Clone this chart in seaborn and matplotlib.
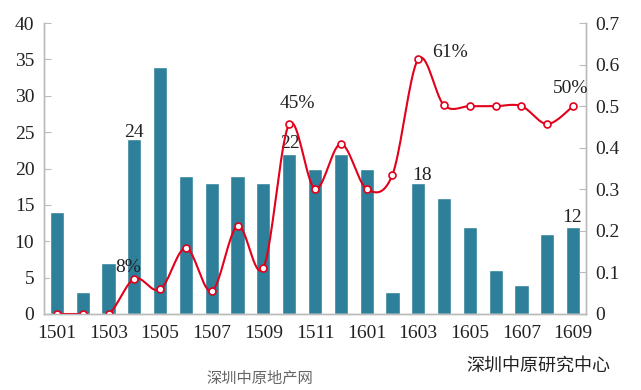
import numpy as np
import pandas as pd
import matplotlib
matplotlib.use("Agg")
import matplotlib.pyplot as plt
import seaborn as sns

months = ["1501", "1502", "1503", "1504", "1505", "1506", "1507", "1508", "1509", "1510",
          "1511", "1512", "1601", "1602", "1603", "1604", "1605", "1606", "1607", "1608", "1609"]
counts = [14, 3, 7, 24, 34, 19, 18, 19, 18, 22, 20, 22, 20, 3, 18, 16, 12, 6, 4, 11, 12]
ratio = [0, 0, 0, 0.085, 0.059, 0.159, 0.055, 0.212, 0.111, 0.457, 0.301, 0.409,
         0.301, 0.335, 0.613, 0.502, 0.5, 0.5, 0.5, 0.457, 0.5]
tick_labels = [m if i % 2 == 0 else "" for i, m in enumerate(months)]

sns.set_style("white")
plt.rcParams["font.family"] = ["Liberation Serif", "Noto Sans CJK SC"]

bar_color = "#2E7F99"
line_color = "#E2001A"
txt = "#222222"

fig = plt.figure(figsize=(6.41, 3.9), dpi=100)
ax = fig.add_axes([44 / 641, 1 - 314 / 390, 542 / 641, 291 / 390])

df = pd.DataFrame({"month": months, "count": counts})
sns.barplot(data=df, x="month", y="count", color=bar_color, width=0.55,
            saturation=1, ax=ax)
ax.set_xlim(-0.5, len(months) - 0.5)
ax.set_ylim(0, 40)
ax.set_yticks(range(0, 41, 5))
ax.set_xticks(range(len(months)))
ax.set_xticklabels(tick_labels)
ax.set_xlabel("")
ax.set_ylabel("")

ax2 = ax.twinx()
ax2.set_ylim(0, 0.7)
ax2.set_yticks(np.arange(0, 0.71, 0.1))
ax2.set_yticklabels(["0"] + [f"{v:.1f}" for v in np.arange(0.1, 0.71, 0.1)])

# smooth curve through the points (Catmull-Rom)
x = np.arange(len(ratio), dtype=float)
y = np.array(ratio, dtype=float)
px = np.concatenate([[x[0]], x, [x[-1]]])
py = np.concatenate([[y[0]], y, [y[-1]]])
sx, sy = [], []
t = np.linspace(0, 1, 20)
for i in range(1, len(px) - 2):
    p0, p1, p2, p3 = py[i - 1], py[i], py[i + 1], py[i + 2]
    q0, q1, q2, q3 = px[i - 1], px[i], px[i + 1], px[i + 2]
    sy.append(0.5 * (2 * p1 + (-p0 + p2) * t + (2 * p0 - 5 * p1 + 4 * p2 - p3) * t ** 2
                     + (-p0 + 3 * p1 - 3 * p2 + p3) * t ** 3))
    sx.append(0.5 * (2 * q1 + (-q0 + q2) * t + (2 * q0 - 5 * q1 + 4 * q2 - q3) * t ** 2
                     + (-q0 + 3 * q1 - 3 * q2 + q3) * t ** 3))
sns.lineplot(x=np.concatenate(sx), y=np.concatenate(sy), color=line_color, lw=1.5,
             ax=ax2, sort=False, estimator=None)
ax2.plot(x, y, "o", ms=5, mfc="white", mec=line_color, mew=1.2)

for a in (ax, ax2):
    a.spines["top"].set_visible(False)
    for s in ("left", "right", "bottom"):
        a.spines[s].set_color("#BBBBBB")
        a.spines[s].set_linewidth(1)
    a.tick_params(axis="y", direction="in", length=5, color="#BBBBBB",
                  labelsize=14, labelcolor=txt, pad=7)
ax.tick_params(axis="x", length=0, labelsize=14, labelcolor=txt, pad=8)
ax2.set_xlim(-0.5, len(months) - 0.5)

fs = 14
ax.text(3, 24.9, "24", ha="center", va="center", fontsize=fs, color=txt)
ax.text(9.05, 23.4, "22", ha="center", va="center", fontsize=fs, color=txt)
ax.text(14.15, 19.1, "18", ha="center", va="center", fontsize=fs, color=txt)
ax.text(19.97, 13.2, "12", ha="center", va="center", fontsize=fs, color=txt)
ax2.text(2.25, 0.113, "8%", ha="left", va="center", fontsize=fs, color=txt)
ax2.text(9.3, 0.507, "45%", ha="center", va="center", fontsize=fs, color=txt)
ax2.text(15.24, 0.628, "61%", ha="center", va="center", fontsize=fs, color=txt)
ax2.text(19.9, 0.543, "50%", ha="center", va="center", fontsize=fs, color=txt)

fig.text(0.952, 1 - 366 / 390, "深圳中原研究中心", ha="right", va="center",
         fontsize=13, color=txt, family=["Noto Sans CJK SC"])
fig.text(0.406, 1 - 378 / 390, "深圳中原地产网", ha="center", va="center",
         fontsize=11, color="#666666", family=["Noto Sans CJK SC"])

fig.savefig("out.png", dpi=100)
